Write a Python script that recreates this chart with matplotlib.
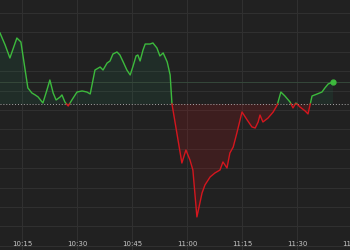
import numpy as np
import matplotlib
matplotlib.use("Agg")
import matplotlib.pyplot as plt
import matplotlib.transforms as mtransforms

# minutes after 10:00 and index level
minutes = [9.0, 10.4, 11.7, 13.6, 14.7, 16.6, 17.7, 18.6, 19.4, 20.7,
           21.8, 22.6, 23.5, 24.3, 25.4, 25.9, 26.7, 27.6, 28.6, 30.0,
           31.4, 32.7, 33.6, 34.9, 36.3, 37.1, 38.2, 39.0, 39.8, 40.9,
           41.7, 42.6, 43.6, 44.5, 45.3, 46.1, 46.6, 47.2, 48.0, 48.6,
           49.9, 50.7, 51.8, 52.6, 53.5, 54.6, 55.4, 55.9, 58.6, 59.7,
           60.8, 61.6, 62.7, 64.1, 64.9, 66.3, 67.6, 69.0, 69.8, 70.9,
           71.7, 72.6, 73.6, 75.0, 76.4, 77.7, 78.6, 79.4, 79.9, 80.7,
           82.1, 83.5, 84.6, 85.6, 86.7, 88.1, 88.9, 89.7, 90.8, 92.2,
           93.0, 94.1, 95.5, 96.8, 97.6, 98.5, 99.8]
price = [3193.94, 3192.70, 3191.36, 3193.42, 3193.01, 3188.27, 3187.75, 3187.55, 3187.34, 3186.72,
         3188.06, 3189.09, 3187.75, 3187.03, 3187.34, 3187.55, 3186.82, 3186.41, 3187.03, 3187.85,
         3187.96, 3187.85, 3187.65, 3190.12, 3190.43, 3190.12, 3190.84, 3191.05, 3191.77, 3191.98,
         3191.67, 3190.95, 3190.12, 3189.61, 3190.54, 3191.57, 3191.67, 3191.05, 3192.18, 3192.80,
         3192.80, 3192.91, 3192.39, 3191.57, 3191.88, 3190.95, 3189.61, 3186.62, 3180.53, 3181.87,
         3180.84, 3179.81, 3174.97, 3177.44, 3178.27, 3179.09, 3179.50, 3179.81, 3180.64, 3180.02,
         3181.57, 3182.18, 3183.63, 3185.79, 3184.97, 3184.25, 3184.14, 3184.76, 3185.48, 3184.76,
         3185.17, 3185.79, 3186.51, 3187.85, 3187.44, 3186.82, 3186.21, 3186.72, 3186.31, 3185.90,
         3185.59, 3187.44, 3187.65, 3187.85, 3188.27, 3188.68, 3188.89]
prev_close = 3186.62

tick_pos = [15, 30, 45, 60, 75, 90]
tick_labels = ['10:15', '10:30', '10:45', '11:00', '11:15', '11:30']

BG = '#212121'
GREEN = '#3dba3d'
RED = '#d4161e'

t = np.array(minutes)
p = np.array(price)

# insert crossing points so both colours meet at the baseline
tt, pp = [t[0]], [p[0]]
for i in range(1, len(t)):
    a, b = p[i - 1] - prev_close, p[i] - prev_close
    if a * b < 0:
        f = a / (a - b)
        tt.append(t[i - 1] + f * (t[i] - t[i - 1]))
        pp.append(prev_close)
    tt.append(t[i])
    pp.append(p[i])
tt = np.array(tt)
pp = np.array(pp)

fig = plt.figure(figsize=(3.5, 2.5), dpi=100, facecolor=BG)
ax = fig.add_axes([0, 0, 1, 1])
ax.set_facecolor(BG)

ax.set_xlim(9.0, 104.45)
ax.set_ylim(3171.56, 3197.34)

# grid
for y in np.arange(3172, 3197, 2):
    ax.axhline(y, color='#313131', lw=0.7, zorder=0)
for x in tick_pos:
    ax.axvline(x, color='#313131', lw=0.7, zorder=0)

# fills
ax.fill_between(tt, pp, prev_close, where=pp >= prev_close, interpolate=True,
                color='#1d9c6a', alpha=0.10, lw=0)
ax.fill_between(tt, pp, prev_close, where=pp <= prev_close, interpolate=True,
                color='#b0141a', alpha=0.20, lw=0)

# two colour line
up = np.where(pp >= prev_close, pp, np.nan)
dn = np.where(pp <= prev_close, pp, np.nan)
ax.plot(tt, up, color=GREEN, lw=1.0, zorder=3)
ax.plot(tt, dn, color=RED, lw=1.0, zorder=3)

# previous close and last price lines
ax.axhline(prev_close, color='#a8a8a8', lw=0.7, ls=(0, (1, 2)), zorder=2)
ax.axhline(p[-1], color='#35483a', lw=0.7, zorder=1)
ax.plot(t[-1], p[-1], 'o', color=GREEN, ms=3.5, zorder=4)

ax.set_yticks([])
ax.set_xticks(tick_pos)
ax.set_xticklabels(tick_labels)
ax.tick_params(axis='x', direction='in', length=0, pad=-6.5,
               labelsize=5, labelcolor='#c8c8c8')
# last label sits half outside the right edge, as in the original
trans = mtransforms.blended_transform_factory(ax.transData, ax.transAxes)
trans = trans + mtransforms.ScaledTranslation(0, 6.5 / 72, fig.dpi_scale_trans)
ax.text(105, 0, '11:45', transform=trans, fontsize=5, color='#c8c8c8',
        ha='center', va='top', clip_on=False)
for s in ax.spines.values():
    s.set_visible(False)

fig.savefig('out.png', dpi=100, facecolor=BG)
